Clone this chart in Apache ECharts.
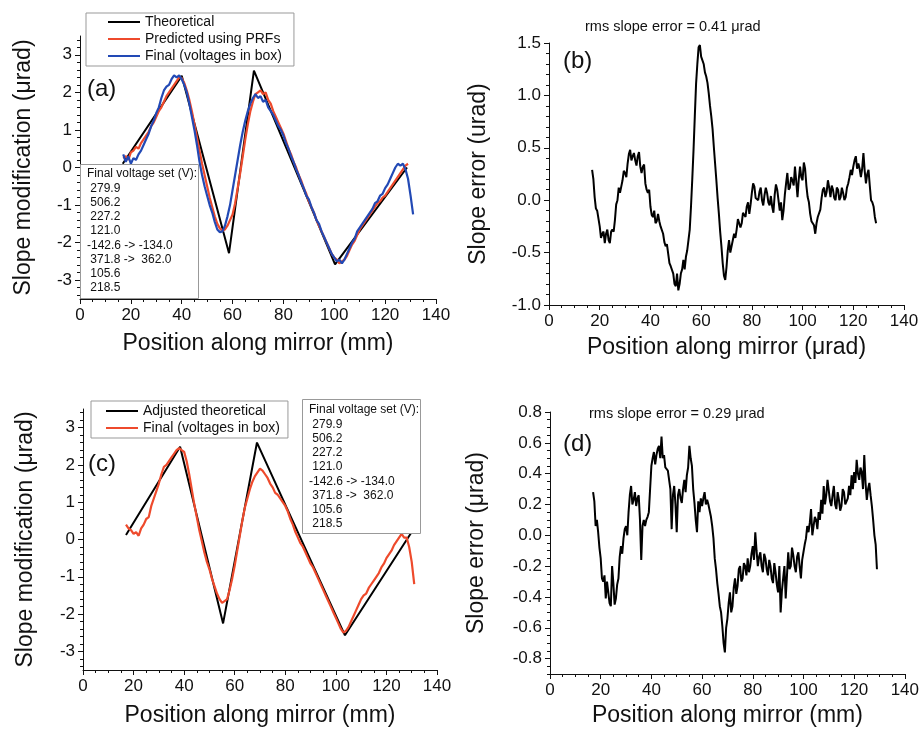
<!DOCTYPE html>
<html>
<head>
<meta charset="utf-8">
<script src="https://cdn.jsdelivr.net/npm/echarts@6/dist/echarts.min.js"></script>
<style>
  html, body { margin: 0; background: #fff; }
  #chart { width: 922px; height: 732px; }
</style>
</head>
<body>
<div id="chart"></div>
<script>
// positions along the mirror (mm), 1 mm steps
const posMm = [17, 18, 19, 20, 21, 22, 23, 24, 25, 26, 27, 28, 29, 30, 31, 32, 33, 34, 35, 36,
  37, 38, 39, 40, 41, 42, 43, 44, 45, 46, 47, 48, 49, 50, 51, 52, 53, 54, 55, 56,
  57, 58, 59, 60, 61, 62, 63, 64, 65, 66, 67, 68, 69, 70, 71, 72, 73, 74, 75, 76,
  77, 78, 79, 80, 81, 82, 83, 84, 85, 86, 87, 88, 89, 90, 91, 92, 93, 94, 95, 96,
  97, 98, 99, 100, 101, 102, 103, 104, 105, 106, 107, 108, 109, 110, 111, 112, 113, 114, 115, 116,
  117, 118, 119, 120, 121, 122, 123, 124, 125, 126, 127, 128, 129, 130, 131];

// positions for the slope error traces, 0.5 mm steps
const posHalf = [17, 17.5, 18, 18.5, 19, 19.5, 20, 20.5, 21, 21.5,
  22, 22.5, 23, 23.5, 24, 24.5, 25, 25.5, 26, 26.5,
  27, 27.5, 28, 28.5, 29, 29.5, 30, 30.5, 31, 31.5,
  32, 32.5, 33, 33.5, 34, 34.5, 35, 35.5, 36, 36.5,
  37, 37.5, 38, 38.5, 39, 39.5, 40, 40.5, 41, 41.5,
  42, 42.5, 43, 43.5, 44, 44.5, 45, 45.5, 46, 46.5,
  47, 47.5, 48, 48.5, 49, 49.5, 50, 50.5, 51, 51.5,
  52, 52.5, 53, 53.5, 54, 54.5, 55, 55.5, 56, 56.5,
  57, 57.5, 58, 58.5, 59, 59.5, 60, 60.5, 61, 61.5,
  62, 62.5, 63, 63.5, 64, 64.5, 65, 65.5, 66, 66.5,
  67, 67.5, 68, 68.5, 69, 69.5, 70, 70.5, 71, 71.5,
  72, 72.5, 73, 73.5, 74, 74.5, 75, 75.5, 76, 76.5,
  77, 77.5, 78, 78.5, 79, 79.5, 80, 80.5, 81, 81.5,
  82, 82.5, 83, 83.5, 84, 84.5, 85, 85.5, 86, 86.5,
  87, 87.5, 88, 88.5, 89, 89.5, 90, 90.5, 91, 91.5,
  92, 92.5, 93, 93.5, 94, 94.5, 95, 95.5, 96, 96.5,
  97, 97.5, 98, 98.5, 99, 99.5, 100, 100.5, 101, 101.5,
  102, 102.5, 103, 103.5, 104, 104.5, 105, 105.5, 106, 106.5,
  107, 107.5, 108, 108.5, 109, 109.5, 110, 110.5, 111, 111.5,
  112, 112.5, 113, 113.5, 114, 114.5, 115, 115.5, 116, 116.5,
  117, 117.5, 118, 118.5, 119, 119.5, 120, 120.5, 121, 121.5,
  122, 122.5, 123, 123.5, 124, 124.5, 125, 125.5, 126, 126.5,
  127, 127.5, 128, 128.5, 129];

// (a) theoretical corners
const theoryAX = [16.8, 40, 58.6, 68.4, 100.3, 128.6];
const theoryAY = [0.1, 2.44, -2.28, 2.58, -2.58, 0.0];

// (a) predicted using PRFs (17..129)
const predictedA = [0.25, 0.3, 0.2, 0.4, 0.45, 0.55, 0.5, 0.65, 0.75, 0.85,
  0.95, 1.1, 1.2, 1.35, 1.5, 1.6, 1.75, 1.9, 2.0, 2.1,
  2.2, 2.3, 2.4, 2.38, 2.25, 2.05, 1.8, 1.5, 1.15, 0.8,
  0.45, 0.1, -0.2, -0.5, -0.8, -1.05, -1.3, -1.5, -1.62, -1.68,
  -1.65, -1.55, -1.4, -1.25, -0.95, -0.55, -0.15, 0.3, 0.75, 1.15,
  1.5, 1.75, 1.95, 2.0, 2.05, 1.95, 2.0, 1.8, 1.7, 1.5,
  1.35, 1.2, 1.05, 0.9, 0.7, 0.5, 0.35, 0.15, 0.0, -0.2,
  -0.35, -0.55, -0.7, -0.9, -1.05, -1.2, -1.4, -1.55, -1.7, -1.85,
  -2.0, -2.15, -2.3, -2.4, -2.45, -2.55, -2.5, -2.45, -2.35, -2.2,
  -2.05, -1.95, -1.8, -1.65, -1.55, -1.45, -1.35, -1.25, -1.15, -1.05,
  -0.95, -0.9, -0.8, -0.75, -0.65, -0.55, -0.45, -0.35, -0.25, -0.15,
  -0.05, 0.05, 0.1];

// (a) final, voltages in box (17..131)
const finalA = [0.35, 0.15, 0.3, 0.1, 0.25, 0.2, 0.35, 0.45, 0.6, 0.75,
  0.9, 1.1, 1.25, 1.45, 1.6, 1.85, 2.05, 2.15, 2.2, 2.35,
  2.45, 2.4, 2.45, 2.35, 2.2, 2.0, 1.7, 1.35, 1.0, 0.6,
  0.15, -0.2, -0.5, -0.75, -1.0, -1.2, -1.45, -1.65, -1.72, -1.7,
  -1.55, -1.3, -1.0, -0.6, -0.2, 0.2, 0.6, 0.95, 1.25, 1.5,
  1.7, 1.85, 1.95, 1.85, 1.9, 1.75, 1.8, 1.6, 1.5, 1.4,
  1.25, 1.1, 1.0, 0.85, 0.65, 0.5, 0.3, 0.15, -0.05, -0.2,
  -0.4, -0.55, -0.75, -0.85, -1.05, -1.2, -1.4, -1.5, -1.7, -1.85,
  -2.0, -2.15, -2.3, -2.4, -2.5, -2.45, -2.55, -2.45, -2.3, -2.15,
  -2.0, -1.9, -1.7, -1.6, -1.5, -1.4, -1.3, -1.2, -1.1, -0.95,
  -0.9, -0.75, -0.7, -0.55, -0.45, -0.3, -0.15, 0.0, 0.1, 0.05,
  0.1, -0.05, -0.3, -0.75, -1.25];

// (b) slope error (17..129, 0.5 mm)
const errorB = [0.29, 0.2, 0.03, -0.08, -0.1, -0.1, -0.25, -0.36, -0.32, -0.3,
  -0.41, -0.32, -0.28, -0.38, -0.41, -0.3, -0.28, -0.3, -0.19, -0.04,
  0.0, 0.12, 0.07, 0.06, 0.19, 0.28, 0.26, 0.22, 0.35, 0.44,
  0.48, 0.38, 0.42, 0.45, 0.38, 0.33, 0.42, 0.46, 0.32, 0.26,
  0.32, 0.34, 0.16, 0.1, 0.07, 0.1, -0.06, -0.14, -0.16, -0.1,
  -0.22, -0.2, -0.13, -0.2, -0.25, -0.24, -0.32, -0.4, -0.44, -0.42,
  -0.51, -0.6, -0.63, -0.62, -0.7, -0.8, -0.82, -0.7, -0.86, -0.8,
  -0.7, -0.66, -0.57, -0.66, -0.54, -0.48, -0.38, -0.28, -0.06, 0.2,
  0.48, 0.8, 1.11, 1.3, 1.46, 1.48, 1.37, 1.38, 1.3, 1.22,
  1.18, 1.12, 1.02, 0.9, 0.8, 0.68, 0.51, 0.35, 0.19, 0.02,
  -0.13, -0.3, -0.44, -0.6, -0.72, -0.76, -0.64, -0.48, -0.38, -0.5,
  -0.51, -0.38, -0.32, -0.36, -0.28, -0.18, -0.19, -0.26, -0.22, -0.12,
  -0.13, -0.16, -0.06, -0.02, -0.13, -0.04, 0.07, 0.16, 0.13, 0.02,
  0.03, 0.0, 0.08, 0.12, 0.0, -0.05, 0.05, 0.12, 0.07, -0.02,
  -0.05, 0.04, -0.06, -0.12, 0.05, 0.15, 0.1, 0.0, -0.1, -0.02,
  -0.19, -0.1, 0.05, 0.16, 0.26, 0.1, 0.12, 0.22, 0.19, 0.14,
  0.32, 0.18, 0.03, 0.2, 0.32, 0.22, 0.19, 0.36, 0.3, 0.14,
  0.03, -0.02, -0.13, -0.2, -0.19, -0.24, -0.32, -0.22, -0.16, -0.16,
  -0.09, 0.02, 0.1, 0.12, 0.03, 0.08, 0.19, 0.12, 0.03, 0.14,
  0.1, 0.02, 0.0, 0.12, 0.1, 0.0, 0.03, 0.12, 0.07, 0.0,
  0.03, 0.12, 0.16, 0.22, 0.29, 0.24, 0.32, 0.38, 0.42, 0.3,
  0.35, 0.3, 0.22, 0.3, 0.45, 0.28, 0.16, 0.25, 0.29, 0.14,
  0.0, -0.02, -0.06, -0.16, -0.22];

// (c) adjusted theoretical corners
const theoryCX = [17, 38.4, 55.4, 68.8, 103.6, 130];
const theoryCY = [0.12, 2.49, -2.25, 2.6, -2.57, 0.2];

// (c) final, voltages in box (17..131)
const finalC = [0.4, 0.3, 0.25, 0.15, 0.2, 0.1, 0.3, 0.4, 0.55, 0.6,
  0.9, 1.1, 1.3, 1.5, 1.75, 1.95, 2.0, 2.1, 2.2, 2.3,
  2.4, 2.45, 2.4, 2.35, 2.1, 1.75, 1.35, 0.95, 0.6, 0.25,
  -0.05, -0.35, -0.6, -0.8, -1.05, -1.25, -1.45, -1.6, -1.7, -1.65,
  -1.6, -1.35, -1.05, -0.7, -0.3, 0.1, 0.5, 0.85, 1.1, 1.35,
  1.55, 1.7, 1.8, 1.9, 1.85, 1.75, 1.65, 1.5, 1.4, 1.25,
  1.2, 1.1, 1.0, 0.9, 0.75, 0.55, 0.4, 0.2, 0.05, -0.1,
  -0.2, -0.35, -0.5, -0.65, -0.75, -0.9, -1.05, -1.2, -1.35, -1.5,
  -1.65, -1.8, -1.95, -2.1, -2.25, -2.4, -2.5, -2.45, -2.35, -2.2,
  -2.05, -1.9, -1.75, -1.6, -1.5, -1.45, -1.3, -1.2, -1.1, -1.0,
  -0.9, -0.75, -0.65, -0.5, -0.4, -0.3, -0.15, -0.05, 0.05, 0.15,
  0.05, 0.05, -0.2, -0.6, -1.2];

// (d) slope error (17..129, 0.5 mm)
const errorD = [0.28, 0.22, 0.06, 0.1, 0.02, -0.08, -0.15, -0.28, -0.3, -0.26,
  -0.41, -0.3, -0.37, -0.44, -0.46, -0.2, -0.31, -0.45, -0.41, -0.32,
  -0.28, -0.14, -0.07, -0.12, -0.02, 0.04, 0.06, 0.0, 0.15, 0.26,
  0.32, 0.2, 0.23, 0.28, 0.19, 0.24, 0.26, 0.1, -0.16, 0.06,
  0.1, 0.06, 0.1, 0.12, 0.15, 0.3, 0.45, 0.5, 0.54, 0.46,
  0.52, 0.56, 0.58, 0.5, 0.64, 0.5, 0.52, 0.44, 0.45, 0.42,
  0.36, 0.3, 0.04, 0.26, 0.32, 0.2, 0.02, 0.26, 0.3, 0.24,
  0.21, 0.3, 0.36, 0.28, 0.39, 0.44, 0.58, 0.5, 0.45, 0.3,
  0.21, 0.1, 0.02, 0.22, 0.15, 0.24, 0.19, 0.24, 0.28, 0.2,
  0.23, 0.2, 0.19, 0.12, 0.06, -0.02, -0.15, -0.22, -0.31, -0.38,
  -0.46, -0.5, -0.59, -0.7, -0.76, -0.6, -0.54, -0.44, -0.37, -0.5,
  -0.46, -0.34, -0.28, -0.38, -0.33, -0.22, -0.2, -0.3, -0.28, -0.18,
  -0.2, -0.26, -0.15, -0.24, -0.2, -0.12, -0.07, -0.16, 0.02, -0.1,
  -0.2, -0.14, -0.11, -0.2, -0.24, -0.12, -0.15, -0.22, -0.26, -0.16,
  -0.2, -0.28, -0.31, -0.18, -0.24, -0.32, -0.37, -0.2, -0.5, -0.36,
  -0.28, -0.2, -0.41, -0.26, -0.11, -0.22, -0.2, -0.08, -0.13, -0.2,
  -0.24, -0.14, -0.11, -0.2, -0.28, -0.16, -0.11, -0.06, -0.02, 0.06,
  0.02, 0.08, 0.17, 0.0, 0.06, 0.12, 0.1, 0.04, 0.15, 0.1,
  0.23, 0.14, 0.32, 0.2, 0.26, 0.36, 0.36, 0.22, 0.19, 0.26,
  0.32, 0.2, 0.17, 0.28, 0.23, 0.16, 0.19, 0.3, 0.28, 0.2,
  0.19, 0.24, 0.32, 0.26, 0.39, 0.3, 0.41, 0.34, 0.49, 0.4,
  0.36, 0.44, 0.41, 0.3, 0.52, 0.34, 0.23, 0.3, 0.34, 0.26,
  0.19, 0.1, 0.0, -0.06, -0.22];

// tick positions
const ticksAC = [-3, -2, -1, 0, 1, 2, 3];
const minorAC = [-3.4, -3.2, -3, -2.8, -2.6, -2.4, -2.2, -2, -1.8, -1.6, -1.4, -1.2, -1, -0.8, -0.6, -0.4, -0.2, 0,
  0.2, 0.4, 0.6, 0.8, 1, 1.2, 1.4, 1.6, 1.8, 2, 2.2, 2.4, 2.6, 2.8, 3, 3.2, 3.4];
const ticksD = [-0.8, -0.6, -0.4, -0.2, 0, 0.2, 0.4, 0.6, 0.8];

const voltageText = ['Final voltage set (V):', ' 279.9', ' 506.2', ' 227.2', ' 121.0',
  '-142.6 -> -134.0', ' 371.8 ->  362.0', ' 105.6', ' 218.5'];

const font = 'Liberation Sans, Arial, sans-serif';
const ink = '#111';
const red = '#ee4a2c';
const blue = '#2249b5';

function pairs(xs, ys) {
  return ys.map((y, i) => [xs[i], y]);
}

function xAxisFor(grid, name, gap) {
  return {
    type: 'value', gridIndex: grid, min: 0, max: 140, interval: 20,
    name: name, nameLocation: 'middle', nameGap: gap,
    nameTextStyle: { fontSize: 23, color: ink, fontFamily: font },
    axisLine: { onZero: false, lineStyle: { color: ink, width: 1 } },
    axisTick: { inside: false, length: 5, lineStyle: { color: ink } },
    minorTick: { show: true, splitNumber: 4, length: 3, lineStyle: { color: ink } },
    axisLabel: { fontSize: 17, color: ink, margin: 8, fontFamily: font },
    splitLine: { show: false }
  };
}

function yAxisFor(grid, name, gap, extra) {
  return Object.assign({
    type: 'value', gridIndex: grid, position: 'left',
    name: name, nameLocation: 'middle', nameGap: gap,
    nameTextStyle: { fontSize: 23, color: ink, fontFamily: font },
    axisLine: { show: true, onZero: false, lineStyle: { color: ink, width: 1 } },
    axisTick: { inside: false, length: 5, lineStyle: { color: ink } },
    axisLabel: { fontSize: 17, color: ink, margin: 8, fontFamily: font },
    splitLine: { show: false }
  }, extra);
}

function minorAxisFor(grid, min, max, extra) {
  return Object.assign({
    type: 'value', gridIndex: grid, position: 'left', offset: 0, min: min, max: max,
    axisLine: { show: false, onZero: false },
    axisLabel: { show: false },
    splitLine: { show: false }
  }, extra);
}

function textEl(left, top, text, size) {
  return {
    type: 'text', left: left, top: top, z: 110,
    style: { text: text, fontSize: size, fontFamily: font, fill: ink, lineHeight: size === 12 ? 14.25 : size + 2 }
  };
}

function boxEl(x, y, w, h) {
  return {
    type: 'rect', z: 100,
    shape: { x: x, y: y, width: w, height: h },
    style: { fill: '#fff', stroke: '#999', lineWidth: 1 }
  };
}

function line(name, x, y, xs, ys, color, width) {
  return {
    type: 'line', name: name, xAxisIndex: x, yAxisIndex: y,
    data: pairs(xs, ys), symbol: 'none', showSymbol: false, color: color,
    lineStyle: { color: color, width: width || 2 }, animation: false
  };
}

const legendBase = {
  orient: 'vertical', itemWidth: 32, itemHeight: 14, itemGap: 3,
  borderColor: '#999', borderWidth: 1, backgroundColor: '#fff',
  selectedMode: false,
  itemStyle: { opacity: 0 },
  textStyle: { fontSize: 14, color: ink, fontFamily: font }
};

const chart = echarts.init(document.getElementById('chart'));
chart.setOption({
  backgroundColor: '#fff',
  animation: false,
  grid: [
    { left: 80, top: 36, width: 356, height: 263 },
    { left: 549, top: 43, width: 355, height: 262 },
    { left: 83, top: 409, width: 354, height: 261 },
    { left: 550, top: 412, width: 355, height: 262 }
  ],
  xAxis: [
    xAxisFor(0, 'Position along mirror (mm)', 33),
    xAxisFor(1, 'Position along mirror (\u03bcrad)', 31),
    xAxisFor(2, 'Position along mirror (mm)', 34),
    xAxisFor(3, 'Position along mirror (mm)', 30)
  ],
  yAxis: [
    yAxisFor(0, 'Slope modification (\u03bcrad)', 45, {
      min: -3.5, max: 3.5,
      axisLabel: { fontSize: 17, color: ink, margin: 8, fontFamily: font, customValues: ticksAC },
      axisTick: { inside: false, length: 5, lineStyle: { color: ink }, customValues: ticksAC }
    }),
    minorAxisFor(0, -3.5, 3.5, { axisTick: { inside: false, length: 3, lineStyle: { color: ink }, customValues: minorAC } }),
    yAxisFor(1, 'Slope error (urad)', 59, {
      min: -1, max: 1.5, interval: 0.5,
      axisLabel: { fontSize: 17, color: ink, margin: 8, fontFamily: font, formatter: v => v.toFixed(1) },
      minorTick: { show: true, splitNumber: 5, length: 3, lineStyle: { color: ink } }
    }),
    yAxisFor(2, 'Slope modification (\u03bcrad)', 46, {
      min: -3.5, max: 3.5,
      axisLabel: { fontSize: 17, color: ink, margin: 8, fontFamily: font, customValues: ticksAC },
      axisTick: { inside: false, length: 5, lineStyle: { color: ink }, customValues: ticksAC }
    }),
    minorAxisFor(2, -3.5, 3.5, { axisTick: { inside: false, length: 3, lineStyle: { color: ink }, customValues: minorAC } }),
    yAxisFor(3, 'Slope error (\u03bcrad)', 62, {
      min: -0.9, max: 0.8,
      axisLabel: { fontSize: 17, color: ink, margin: 8, fontFamily: font, customValues: ticksD, formatter: v => v.toFixed(1) },
      axisTick: { inside: false, length: 5, lineStyle: { color: ink }, customValues: ticksD }
    }),
    minorAxisFor(3, -0.9, 0.8, { interval: 0.05, axisTick: { inside: false, length: 3, lineStyle: { color: ink } } })
  ],
  legend: [
    Object.assign({}, legendBase, {
      data: ['Theoretical', 'Predicted using PRFs', 'Final (voltages in box)'],
      left: 86, top: 13, padding: [2, 12, 3, 21]
    }),
    Object.assign({}, legendBase, {
      data: ['Adjusted theoretical', 'Final (c)'],
      formatter: n => n === 'Final (c)' ? 'Final (voltages in box)' : n,
      left: 91, top: 401, padding: [3, 8, 3, 14]
    })
  ],
  series: [
    line('Theoretical', 0, 0, theoryAX, theoryAY, '#000', 2),
    line('Predicted using PRFs', 0, 0, posMm, predictedA, red, 2.2),
    line('Final (voltages in box)', 0, 0, posMm, finalA, blue, 2.2),
    line('error b', 1, 2, posHalf, errorB, '#000', 2),
    line('Adjusted theoretical', 2, 3, theoryCX, theoryCY, '#000', 2),
    line('Final (c)', 2, 3, posMm, finalC, red, 2.2),
    line('error d', 3, 5, posHalf, errorD, '#000', 2)
  ],
  graphic: [
    boxEl(80.5, 164.5, 118, 134),
    textEl(87, 167, voltageText.join('\n'), 12),
    boxEl(302.5, 399.5, 118, 134),
    textEl(309, 403, voltageText.join('\n'), 12),
    textEl(87, 76, '(a)', 24),
    textEl(563, 48, '(b)', 24),
    textEl(88, 451, '(c)', 24),
    textEl(563, 431, '(d)', 24),
    textEl(585, 19, 'rms slope error = 0.41 \u03bcrad', 14.5),
    textEl(589, 406, 'rms slope error = 0.29 \u03bcrad', 14.5)
  ]
});
</script>
</body>
</html>
